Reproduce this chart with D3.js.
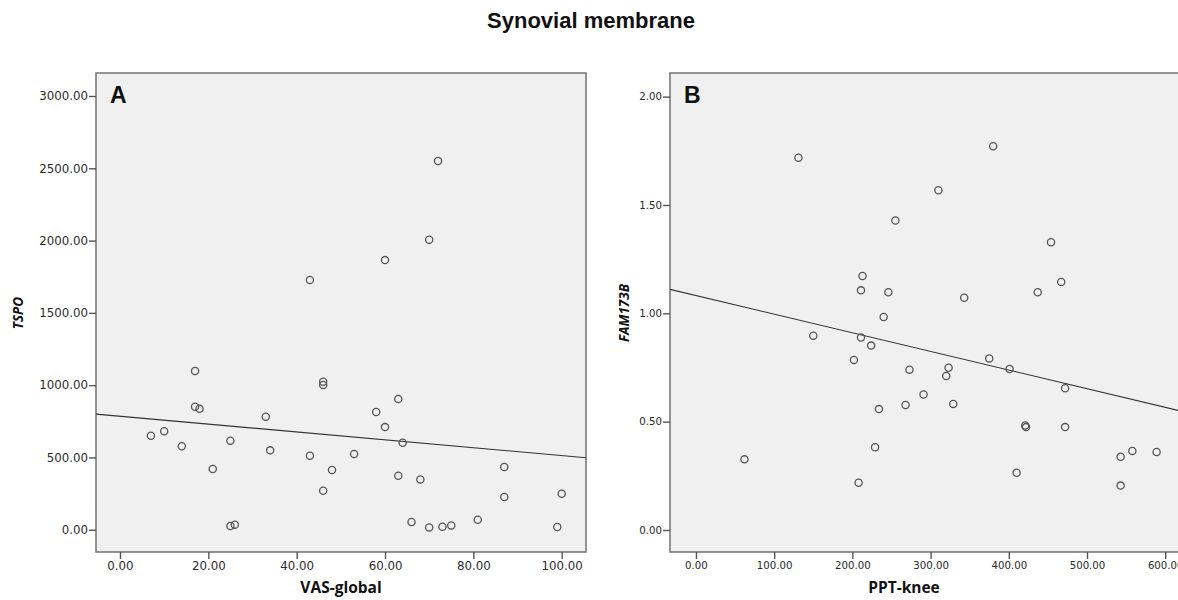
<!DOCTYPE html>
<html><head><meta charset="utf-8">
<script src="https://cdn.jsdelivr.net/npm/d3@7"></script>
<style>body{margin:0;background:#fff}svg{display:block}</style>
</head><body>
<svg id="c" width="1178" height="600"></svg>
<script>
const title = "Synovial membrane";
// Panel A: VAS-global vs TSPO
const aX = [72,70,60,43,17,17,18,33,7,10,14,25,34,21,25,26,46,46,63,58,60,64,43,53,48,46,63,68,87,87,100,66,70,73,75,81,99];
const aY = [2550,2006,1865,1727,1098,851,837,782,650,681,577,616,549,420,26,35,1024,1001,904,814,710,602,512,524,413,270,373,348,434,226,249,53,16,21,30,69,19];
const aTicksX = [0,20,40,60,80,100];
const aTicksY = [0,500,1000,1500,2000,2500,3000];
const aFit = [785, -2.72]; // intercept, slope
// Panel B: PPT-knee vs FAM173B
const bX = [131,380,310,255,454,213,211,246,343,437,467,240,150,211,224,202,375,401,273,323,320,472,291,268,329,234,421,422,472,229,62,208,410,543,558,589,543];
const bY = [1.718,1.771,1.568,1.428,1.328,1.172,1.106,1.097,1.072,1.097,1.145,0.983,0.897,0.888,0.851,0.785,0.792,0.743,0.740,0.749,0.711,0.654,0.625,0.577,0.582,0.558,0.482,0.475,0.475,0.382,0.326,0.218,0.264,0.338,0.365,0.360,0.205];
const bTicksX = [0,100,200,300,400,500,600];
const bTicksY = [0,0.5,1,1.5,2];
const bFit = [1.082, -0.00086];

const svg = d3.select("#c");
svg.append("text").attr("x",591).attr("y",28).attr("text-anchor","middle")
  .attr("font-family","Liberation Sans, Arial, sans-serif").attr("font-weight","bold")
  .attr("font-size",22).attr("fill","#111").text(title);

function panel(o){
  const x = d3.scaleLinear().domain(o.xd).range([o.l,o.r]);
  const y = d3.scaleLinear().domain(o.yd).range([552,73]);
  const g = svg.append("g");
  const clipId = "clip"+o.letter;
  svg.append("clipPath").attr("id",clipId).append("rect")
    .attr("x",o.l).attr("y",73).attr("width",o.r-o.l).attr("height",552-73);
  g.append("rect").attr("x",o.l).attr("y",73).attr("width",o.r-o.l).attr("height",552-73)
    .attr("fill","#f0f0f0").attr("stroke","#7a7a7a").attr("stroke-width",1.6);
  const fmt = o.fmt;
  const ax = g.append("g").attr("transform","translate(0,552)")
    .call(d3.axisBottom(x).tickValues(o.tx).tickFormat(fmt).tickSize(7).tickSizeOuter(0).tickPadding(3));
  const ay = g.append("g").attr("transform",`translate(${o.l},0)`)
    .call(d3.axisLeft(y).tickValues(o.ty).tickFormat(fmt).tickSize(7).tickSizeOuter(0).tickPadding(1));
  [ax,ay].forEach(a=>{
    a.select(".domain").remove();
    a.selectAll(".tick line").attr("stroke","#555").attr("stroke-width",1.4);
    a.selectAll(".tick text").attr("font-family","DejaVu Sans, sans-serif").attr("font-size",o.fs).attr("fill","#2a2a2a");
  });
  const pg = g.append("g").attr("clip-path",`url(#${clipId})`);
  const x0 = o.xd[0], x1 = o.xd[1];
  pg.append("line").attr("x1",x(x0)).attr("x2",x(x1))
    .attr("y1",y(o.fit[0]+o.fit[1]*x0)).attr("y2",y(o.fit[0]+o.fit[1]*x1))
    .attr("stroke","#333").attr("stroke-width",1.1);
  pg.selectAll("circle").data(o.xs.map((v,i)=>[v,o.ys[i]])).join("circle")
    .attr("cx",d=>x(d[0])).attr("cy",d=>y(d[1])).attr("r",3.6)
    .attr("fill","none").attr("stroke","#555").attr("stroke-width",1.3);
  g.append("text").attr("x",o.l+14).attr("y",103).attr("font-family","Liberation Sans, Arial, sans-serif")
    .attr("font-weight","bold").attr("font-size",23).attr("fill","#111").text(o.letter);
  g.append("text").attr("x",(o.l+Math.min(o.r,1178))/2 + (o.letter==="B"?-20:0)).attr("y",593).attr("text-anchor","middle")
    .attr("font-family","Open Sans, sans-serif").attr("font-weight","bold").attr("font-size",15.5).attr("fill","#111").text(o.xlab);
  g.append("text").attr("transform",`translate(${o.yl},313) rotate(-90)`).attr("text-anchor","middle")
    .attr("font-family","Open Sans, sans-serif").attr("font-weight","bold").attr("font-style","italic")
    .attr("font-size",13.5).attr("fill","#111").text(o.ylab);
}
panel({letter:"A",l:96,r:586,xd:[-5.43,105.5],yd:[-154,3159],tx:aTicksX,ty:aTicksY,fmt:d3.format(".2f"),
  xs:aX,ys:aY,fit:aFit,xlab:"VAS-global",ylab:"TSPO",yl:23,fs:11.8});
panel({letter:"B",l:670,r:1190,xd:[-33.2,631.7],yd:[-0.1015,2.109],tx:bTicksX,ty:bTicksY,fmt:d3.format(".2f"),
  xs:bX,ys:bY,fit:bFit,xlab:"PPT-knee",ylab:"FAM173B",yl:629,fs:10.2});
</script>
</body></html>
